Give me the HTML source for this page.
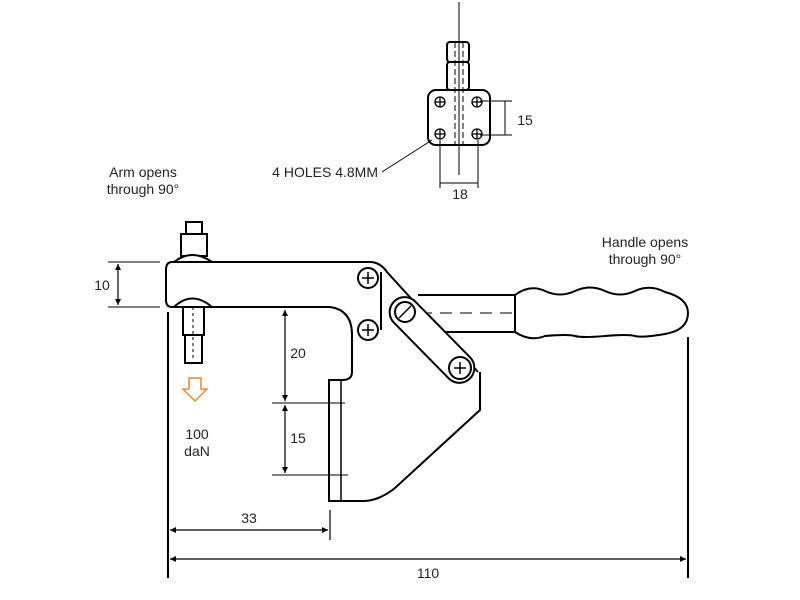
<!DOCTYPE html>
<html><head><style>
html,body{margin:0;padding:0;background:#fff;}
svg{display:block;}
text{font-family:"Liberation Sans",sans-serif;font-size:14px;fill:#222;}
</style></head><body>
<svg width="800" height="600" viewBox="0 0 800 600" xmlns="http://www.w3.org/2000/svg">
<defs>
<marker id="a" viewBox="0 0 10 10" refX="10" refY="5" markerWidth="10" markerHeight="6" orient="auto-start-reverse" markerUnits="userSpaceOnUse"><path d="M0,0 L10,5 L0,10z" fill="#000"/></marker>
</defs>
<g fill="none" stroke="#000" stroke-width="2">
<line x1="459" y1="2" x2="459" y2="175" stroke-width="1"/>
<rect x="447" y="42" width="22" height="20" rx="3"/>
<rect x="447" y="62" width="22" height="28" rx="3"/>
<line x1="455" y1="42" x2="455" y2="145" stroke-width="1" stroke-dasharray="6,3"/>
<line x1="463" y1="42" x2="463" y2="145" stroke-width="1" stroke-dasharray="6,3"/>
<rect x="428" y="90" width="62" height="55" rx="8"/>
<g stroke-width="1.3">
<circle cx="440" cy="102" r="5"/><circle cx="477" cy="102" r="5"/>
<circle cx="440" cy="134" r="5"/><circle cx="477" cy="134" r="5"/>
<path d="M435 102h10M440 97v10M472 102h10M477 97v10M435 134h10M440 129v10M472 134h10M477 129v10"/>
</g>
<g stroke-width="1">
<line x1="480" y1="101" x2="512" y2="101"/><line x1="480" y1="135" x2="512" y2="135"/>
<line x1="505" y1="101" x2="505" y2="135"/>
<line x1="440" y1="140" x2="440" y2="188"/><line x1="478" y1="140" x2="478" y2="188"/>
<line x1="440" y1="183" x2="478" y2="183"/>
<line x1="382" y1="172" x2="432" y2="140"/>
</g>
<path d="M418 295 H515 M418 332 H515 M515 295 V332"/>
<line x1="420" y1="313" x2="512" y2="313" stroke-width="1" stroke-dasharray="12,8"/>
<path d="M515 295 Q530 284 545 291 T575 291 T605 291 T635 291 T665 292 Q688 298 688 313 Q688 330 665 334 T635 336 T605 336 T575 336 T545 336 Q530 342 515 332"/>
<path d="M172 262 H370 Q380 262 387 272 L478 372"/>
<path d="M172 307 H330 Q352 310 352 335 V372 Q352 380 342 380 H329 V501 H365 Q380 500 395 488 L480 410 V372"/>
<path d="M172 262 Q166 262 166 270 V300 Q166 307 172 307"/>
<line x1="381" y1="272" x2="381" y2="330" stroke-width="2"/>
<line x1="341" y1="380" x2="341" y2="501" stroke-width="1.5"/>
<rect x="378" y="325" width="108" height="30" rx="15" transform="rotate(45.5 432 340)" fill="#fff" stroke-width="2"/>
<circle cx="368" cy="278" r="10" fill="#fff"/><circle cx="368" cy="330" r="10" fill="#fff"/>
<circle cx="405" cy="312" r="10" fill="#fff"/><circle cx="460" cy="368" r="11" fill="#fff"/>
<path d="M362 278h12M368 272v12M362 330h12M368 324v12M454 368h12M460 362v12M399 318l12-12" stroke-width="1.5"/>
<path d="M186 222h16v12h-16z"/><path d="M181 234h26v22h-26z"/>
<path d="M174 262 Q192 248 212 262z" fill="#fff"/>
<path d="M174 307 Q192 290 212 307z" fill="#fff"/>
<path d="M183 307h21v28h-21z"/><path d="M185 335v28h17v-28"/>
<line x1="193" y1="307" x2="193" y2="360" stroke-width="1" stroke-dasharray="3,3"/>
</g>
<g stroke="#000" stroke-width="1.2" fill="none">
<line x1="108" y1="262" x2="160" y2="262" stroke-width="1"/><line x1="108" y1="307" x2="160" y2="307" stroke-width="1"/>
<line x1="118" y1="264" x2="118" y2="305" marker-start="url(#a)" marker-end="url(#a)"/>
<line x1="168" y1="312" x2="168" y2="578" stroke-width="2"/>
<line x1="688" y1="337" x2="688" y2="578" stroke-width="2"/>
<line x1="330" y1="510" x2="330" y2="540"/>
<line x1="170" y1="530" x2="328" y2="530" marker-start="url(#a)" marker-end="url(#a)"/>
<line x1="170" y1="559" x2="686" y2="559" marker-start="url(#a)" marker-end="url(#a)"/>
<line x1="285" y1="310" x2="285" y2="401" marker-start="url(#a)" marker-end="url(#a)"/>
<line x1="285" y1="405" x2="285" y2="473" marker-start="url(#a)" marker-end="url(#a)"/>
<line x1="272" y1="403" x2="345" y2="403" stroke-width="1"/>
<line x1="272" y1="475" x2="348" y2="475" stroke-width="1"/>
</g>
<path d="M189 378h12v11h6l-12 12l-12-12h6z" fill="#fff" stroke="#e08a3c" stroke-width="1.5"/>
<text x="143" y="177" text-anchor="middle">Arm opens</text>
<text x="143" y="194" text-anchor="middle">through 90°</text>
<text x="645" y="247" text-anchor="middle">Handle opens</text>
<text x="645" y="264" text-anchor="middle">through 90°</text>
<text x="378" y="177" text-anchor="end">4 HOLES 4.8MM</text>
<text x="525" y="125" text-anchor="middle">15</text>
<text x="460" y="199" text-anchor="middle">18</text>
<text x="102" y="290" text-anchor="middle">10</text>
<text x="298" y="358" text-anchor="middle">20</text>
<text x="298" y="443" text-anchor="middle">15</text>
<text x="197" y="439" text-anchor="middle">100</text>
<text x="197" y="456" text-anchor="middle">daN</text>
<text x="249" y="523" text-anchor="middle">33</text>
<text x="428" y="578" text-anchor="middle">110</text>
</svg>
</body></html>
